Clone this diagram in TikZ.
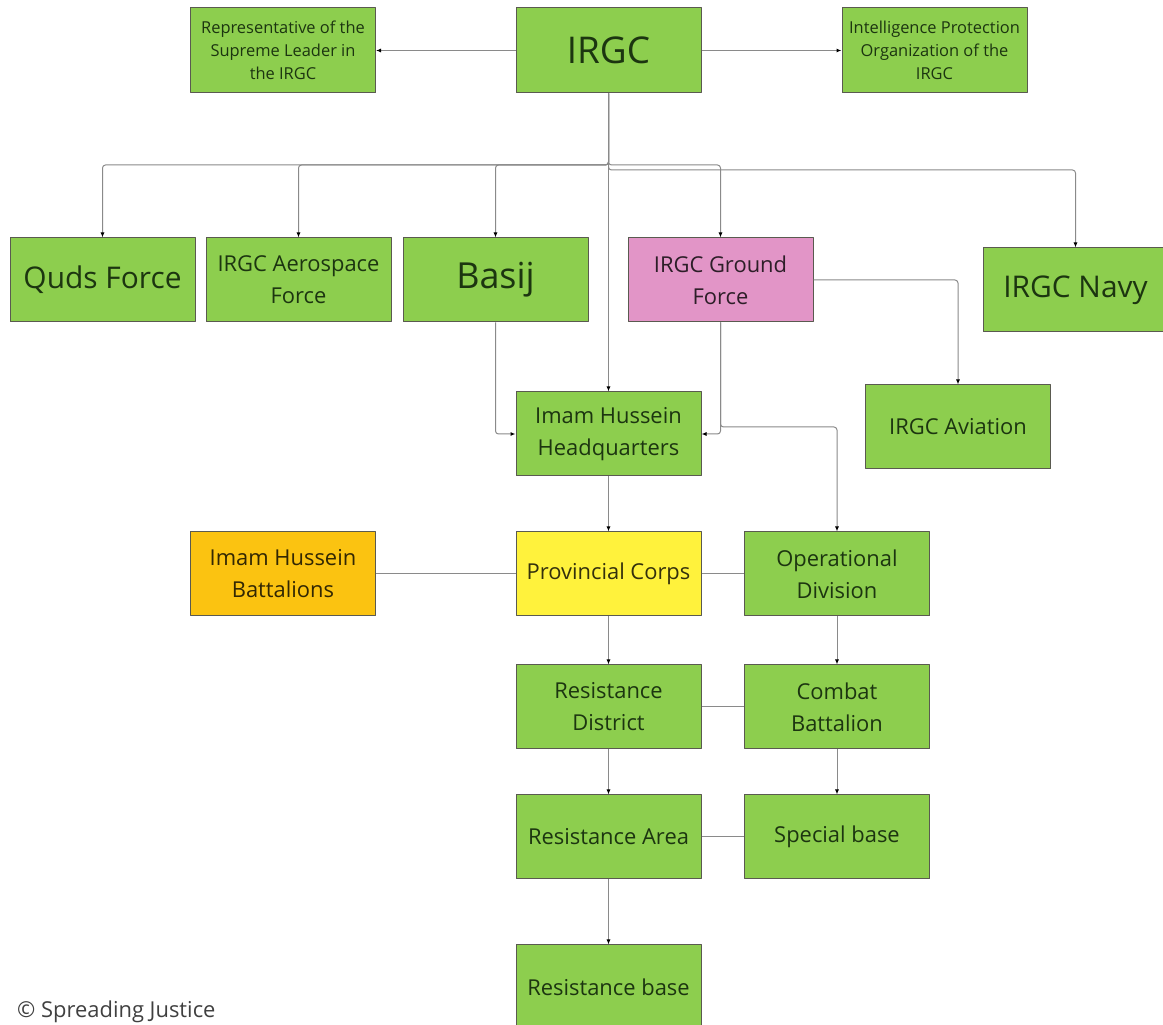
\documentclass[tikz,border=0pt]{standalone}
\usepackage{fontspec}
\setmainfont{Open Sans}
\usetikzlibrary{arrows.meta}
\definecolor{boxgreen}{HTML}{8DCE4E}
\definecolor{boxpink}{HTML}{E295C7}
\definecolor{boxyellow}{HTML}{FFF23C}
\definecolor{boxorange}{HTML}{FBC311}
\definecolor{boxline}{HTML}{5A5A50}
\definecolor{linkgrey}{HTML}{8A8A8A}
\definecolor{txtgreen}{HTML}{1C3510}
\tikzset{
  unit/.style={draw=boxline,line width=1bp,fill=boxgreen,text=txtgreen,
    minimum width=185bp,minimum height=84bp,inner sep=0pt,align=center,
    font=\fontsize{22}{32}\selectfont},
  smallunit/.style={unit,font=\fontsize{16.5}{23}\selectfont},
  bigunit/.style={unit,font=\fontsize{30}{36}\selectfont},
  link/.style={draw=linkgrey,line width=1bp,rounded corners=3bp},
}
\begin{document}
\begin{tikzpicture}[>={Latex[length=5bp,width=4bp,color=black]},line join=bevel]
\path[fill=white] (0bp,0bp) rectangle (1163bp,1025bp);
\useasboundingbox (0bp,0bp) rectangle (1163bp,1025bp);
%%
\node (node_irgc) at (608.5bp,974.5bp) [unit,minimum height=85bp,font=\fontsize{37}{40}\selectfont] {IRGC};
  \node (node_rep) at (283bp,974.5bp) [smallunit,minimum height=85bp] {Representative of the\\Supreme Leader in\\the IRGC};
  \node (node_ipo) at (934.5bp,974.5bp) [smallunit,minimum height=85bp] {Intelligence Protection\\Organization of the\\IRGC};
%
\node (node_quds) at (102.5bp,745bp) [bigunit] {Quds Force};
  \node (node_aero) at (298.5bp,745bp) [unit] {IRGC Aerospace\\Force};
  \node (node_basij) at (495.5bp,745bp) [unit,font=\fontsize{36}{40}\selectfont] {Basij};
  \node (node_ground) at (720.5bp,745bp) [unit,fill=boxpink,text=black!80!boxpink] {IRGC Ground\\Force};
  \node (node_navy) at (1075.5bp,735bp) [bigunit] {IRGC Navy};
%
\node (node_hq) at (608.5bp,591bp) [unit] {Imam Hussein\\Headquarters};
  \node (node_aviation) at (958bp,598bp) [unit] {IRGC Aviation};
%
\node (node_battalions) at (283bp,451bp) [unit,fill=boxorange,text=black!80!boxorange] {Imam Hussein\\Battalions};
  \node (node_corps) at (608.5bp,451bp) [unit,fill=boxyellow,text=black!80!boxyellow] {Provincial Corps};
  \node (node_opdiv) at (837bp,451bp) [unit] {Operational\\Division};
%
\node (node_district) at (608.5bp,318bp) [unit] {Resistance\\District};
  \node (node_combat) at (837bp,318bp) [unit] {Combat\\Battalion};
  \node (node_area) at (608.5bp,188bp) [unit] {Resistance Area};
  \node (node_special) at (837bp,188bp) [unit] {Special base};
  \node (node_rbase) at (608.5bp,38bp) [unit] {Resistance base};
%
\node (node_credit) at (17bp,13bp) [anchor=west,inner sep=0pt,text=black!75,font=\fontsize{22}{26}\selectfont] {© Spreading Justice};
%
\coordinate (split_a) at (608.5bp,860bp);
  \coordinate (split_b) at (608.5bp,855bp);
  \coordinate (ground_turn) at (720.5bp,598bp);
%
\draw [link,->] (node_irgc) -- (node_rep);
  \draw [link,->] (node_irgc) -- (node_ipo);
  \draw [link,->] (node_irgc.south) -- (split_a) -| (node_quds.north);
  \draw [link,->] (node_irgc.south) -- (split_a) -| (node_aero.north);
  \draw [link,->] (node_irgc.south) -- (split_a) -| (node_basij.north);
  \draw [link,->] (node_irgc.south) -- (split_a) -| (node_ground.north);
  \draw [link,->] (node_irgc.south) -- (split_b) -| (node_navy.north);
  \draw [link,->] (node_irgc.south) -- (node_hq.north);
  \draw [link,->] (node_basij.south) |- (node_hq.west);
  \draw [link,->] (node_ground.south) |- (node_hq.east);
  \draw [link,->] (node_ground.south) -- (ground_turn) -| (node_opdiv.north);
  \draw [link,->] (node_ground.east) -| (node_aviation.north);
  \draw [link,->] (node_hq) -- (node_corps);
  \draw [link,->] (node_corps) -- (node_district);
  \draw [link,->] (node_district) -- (node_area);
  \draw [link,->] (node_area) -- (node_rbase);
  \draw [link,->] (node_opdiv) -- (node_combat);
  \draw [link,->] (node_combat) -- (node_special);
  \draw [link] (node_battalions) -- (node_corps);
  \draw [link] (node_corps) -- (node_opdiv);
  \draw [link] (node_district) -- (node_combat);
  \draw [link] (node_area) -- (node_special);
%
\end{tikzpicture}
\end{document}
